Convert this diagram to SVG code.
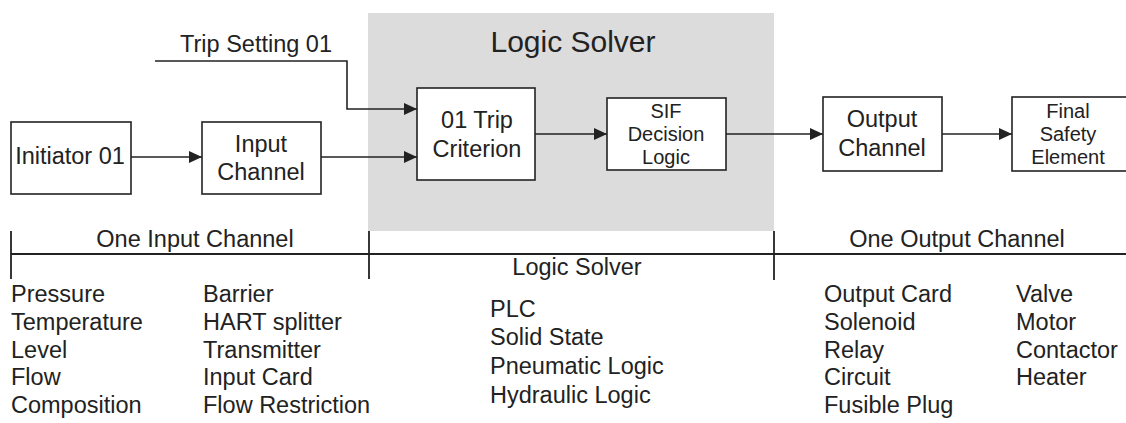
<svg xmlns="http://www.w3.org/2000/svg" width="1126" height="423" viewBox="0 0 1126 423">
  <style>
    text { font-family: "Liberation Sans", Arial, sans-serif; font-size: 23.5px; fill: #222; }
    .c { text-anchor: middle; }
    .tight { font-size: 20px; }
    .title { font-size: 30px; }
    .box { fill: #fff; stroke: #222; stroke-width: 1.6; }
    .wire { fill: none; stroke: #222; stroke-width: 1.6; }
    .rule { fill: none; stroke: #222; stroke-width: 1.8; }
  </style>
  <defs>
    <marker id="arrow" viewBox="0 0 13 12" refX="13" refY="6" markerWidth="13" markerHeight="12" markerUnits="userSpaceOnUse" orient="auto">
      <path d="M0,0 L13,6 L0,12 Z" fill="#222"/>
    </marker>
  </defs>

  <rect width="1126" height="423" fill="#fff"/>

  <!-- logic solver region -->
  <g id="logic-solver-area">
    <rect x="368" y="13" width="406" height="218" fill="#dcdcdc"/>
    <text class="c title" x="573" y="52">Logic Solver</text>
  </g>

  <!-- connectors -->
  <g id="connectors">
    <line class="wire" x1="131" y1="157" x2="202" y2="157" marker-end="url(#arrow)"/>
    <line class="wire" x1="321" y1="157" x2="417" y2="157" marker-end="url(#arrow)"/>
    <polyline class="wire" points="155,61 347,61 347,109 417,109" marker-end="url(#arrow)"/>
    <line class="wire" x1="535" y1="134" x2="607" y2="134" marker-end="url(#arrow)"/>
    <line class="wire" x1="726" y1="134" x2="823" y2="134" marker-end="url(#arrow)"/>
    <line class="wire" x1="942" y1="134" x2="1012" y2="134" marker-end="url(#arrow)"/>
    <text class="c" x="256" y="52">Trip Setting 01</text>
  </g>

  <g id="initiator">
    <rect class="box" x="11" y="122" width="120" height="72"/>
    <text class="c" x="70" y="164">Initiator 01</text>
  </g>
  <g id="input-channel">
    <rect class="box" x="202" y="122" width="119" height="72"/>
    <text class="c" x="261" y="152">Input</text>
    <text class="c" x="261" y="180">Channel</text>
  </g>
  <g id="trip-criterion">
    <rect class="box" x="417" y="88" width="118" height="92"/>
    <text class="c" x="477" y="128">01 Trip</text>
    <text class="c" x="477" y="157">Criterion</text>
  </g>
  <g id="sif-decision">
    <rect class="box" x="607" y="98" width="119" height="72"/>
    <text class="c tight" x="666" y="118">SIF</text>
    <text class="c tight" x="666" y="141">Decision</text>
    <text class="c tight" x="666" y="164">Logic</text>
  </g>
  <g id="output-channel">
    <rect class="box" x="823" y="97" width="119" height="74"/>
    <text class="c" x="882" y="127">Output</text>
    <text class="c" x="882" y="156">Channel</text>
  </g>
  <g id="final-element">
    <rect class="box" x="1012" y="97" width="124" height="74"/>
    <text class="c tight" x="1068" y="118">Final</text>
    <text class="c tight" x="1068" y="141">Safety</text>
    <text class="c tight" x="1068" y="164">Element</text>
  </g>

  <!-- scope rule -->
  <g id="scope">
    <line class="rule" x1="11" y1="254" x2="1126" y2="254"/>
    <line class="rule" x1="11" y1="231" x2="11" y2="279"/>
    <line class="rule" x1="369" y1="231" x2="369" y2="279"/>
    <line class="rule" x1="774" y1="231" x2="774" y2="280"/>
    <text class="c" x="195" y="247">One Input Channel</text>
    <text class="c" x="577" y="275">Logic Solver</text>
    <text class="c" x="957" y="247">One Output Channel</text>
  </g>

  <!-- device lists -->
  <g id="lists">
    <text x="11" y="302">Pressure</text>
    <text x="11" y="330">Temperature</text>
    <text x="11" y="357.5">Level</text>
    <text x="11" y="385">Flow</text>
    <text x="11" y="413">Composition</text>

    <text x="203" y="302">Barrier</text>
    <text x="203" y="330">HART splitter</text>
    <text x="203" y="357.5">Transmitter</text>
    <text x="203" y="385">Input Card</text>
    <text x="203" y="413">Flow Restriction</text>

    <text x="490" y="317">PLC</text>
    <text x="490" y="345">Solid State</text>
    <text x="490" y="374">Pneumatic Logic</text>
    <text x="490" y="403">Hydraulic Logic</text>

    <text x="824" y="302">Output Card</text>
    <text x="824" y="330">Solenoid</text>
    <text x="824" y="357.5">Relay</text>
    <text x="824" y="385">Circuit</text>
    <text x="824" y="413">Fusible Plug</text>

    <text x="1016" y="302">Valve</text>
    <text x="1016" y="330">Motor</text>
    <text x="1016" y="357.5">Contactor</text>
    <text x="1016" y="385">Heater</text>
  </g>
</svg>
